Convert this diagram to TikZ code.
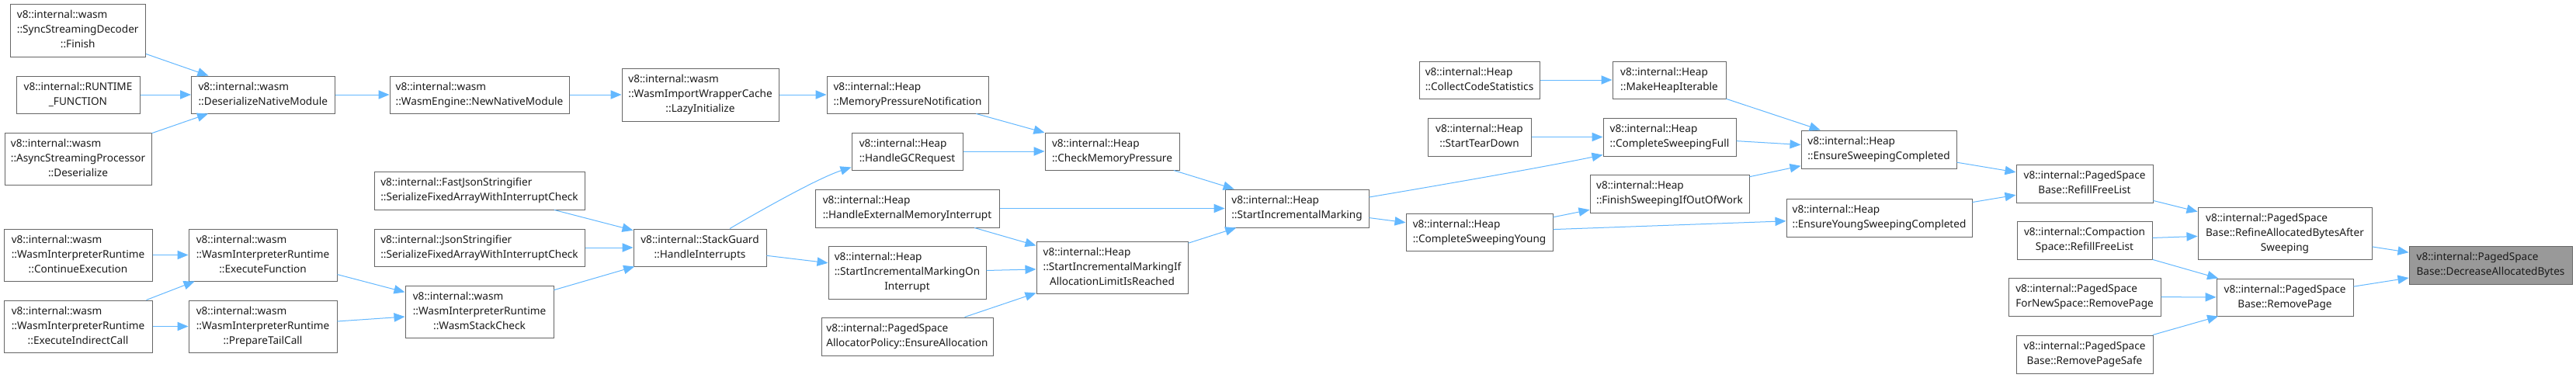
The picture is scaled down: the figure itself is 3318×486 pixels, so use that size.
\documentclass[tikz,border=0pt]{standalone}
\usepackage{fontspec}
\setmainfont{Noto Sans}
\usetikzlibrary{arrows.meta,calc}
\definecolor{edgeblue}{HTML}{63B8FF}
\definecolor{nodeborder}{HTML}{666666}
\definecolor{rootfill}{HTML}{999999}
\definecolor{txt}{HTML}{1A1A1A}
\newcommand{\lc}[1]{\multicolumn{1}{@{}c@{}}{#1}}
% [style] name x1 y1 x2 y2 {left lines} {last line}
\newcommand{\nd}[8][]{\node[nbox,#1,minimum width={(#5-#3)*0.75pt},minimum height={(#6-#4)*0.75pt}] (#2) at ({(#3+#5)/2},{(#4+#6)/2}) {\begin{tabular}{@{}l@{}}#7\\\lc{#8}\end{tabular}};}
\tikzset{
  nbox/.style={rectangle, draw=nodeborder, fill=white, line width=0.75pt, inner sep=0pt, text=txt},
  rootbox/.style={fill=rootfill},
  callarrow/.style={draw=edgeblue, line width=0.75pt, -{Triangle[length=10.5pt,width=8.5pt]}}
}
\begin{document}
\begin{tikzpicture}[x=0.75pt, y=-0.75pt, font=\fontsize{10.2}{14.25}\selectfont]
\fill[white] (0,0) rectangle (3318,486);
\useasboundingbox (0,0) rectangle (3318,486);
% nodes
\nd{sync}{13}{5}{187.5}{73}{v8::internal::wasm\\::SyncStreamingDecoder}{::Finish}
\nd{runtime}{21}{98}{180}{146}{v8::internal::RUNTIME}{\_FUNCTION}
\nd{async}{6}{171}{195}{238}{v8::internal::wasm\\::AsyncStreamingProcessor}{::Deserialize}
\nd{dnm}{246.5}{98}{431}{146}{v8::internal::wasm}{::DeserializeNativeModule}
\nd{ce}{5}{295}{196}{362}{v8::internal::wasm\\::WasmInterpreterRuntime}{::ContinueExecution}
\nd{eic}{5}{387}{196}{454}{v8::internal::wasm\\::WasmInterpreterRuntime}{::ExecuteIndirectCall}
\nd{ef}{243}{295}{434}{362}{v8::internal::wasm\\::WasmInterpreterRuntime}{::ExecuteFunction}
\nd{ptc}{243}{387}{434}{454}{v8::internal::wasm\\::WasmInterpreterRuntime}{::PrepareTailCall}
\nd{nnm}{502}{98}{733}{146}{v8::internal::wasm}{::WasmEngine::NewNativeModule}
\nd{lazy}{801}{88}{1003}{156}{v8::internal::wasm\\::WasmImportWrapperCache}{::LazyInitialize}
\nd{fjs}{482}{221}{753}{270}{v8::internal::FastJsonStringifier}{::SerializeFixedArrayWithInterruptCheck}
\nd{js}{482}{295}{753}{343}{v8::internal::JsonStringifier}{::SerializeFixedArrayWithInterruptCheck}
\nd{wsc}{522}{368}{713}{435}{v8::internal::wasm\\::WasmInterpreterRuntime}{::WasmStackCheck}
\nd{sg}{816}{295}{987}{343}{v8::internal::StackGuard}{::HandleInterrupts}
\nd{mpn}{1065}{98}{1273}{146}{v8::internal::Heap}{::MemoryPressureNotification}
\nd{hgc}{1097}{171}{1240}{219}{v8::internal::Heap}{::HandleGCRequest}
\nd{hemi}{1050}{244}{1287}{293}{v8::internal::Heap}{::HandleExternalMemoryInterrupt}
\nd{simoi}{1067}{317}{1270}{385}{v8::internal::Heap\\::StartIncrementalMarkingOn}{Interrupt}
\nd{ea}{1058}{409}{1279}{458}{v8::internal::PagedSpace}{AllocatorPolicy::EnsureAllocation}
\nd{cmp}{1346}{171}{1519}{219}{v8::internal::Heap}{::CheckMemoryPressure}
\nd{simif}{1335}{311}{1530}{378}{v8::internal::Heap\\::StartIncrementalMarkingIf}{AllocationLimitIsReached}
\nd{sim}{1578}{244}{1763}{293}{v8::internal::Heap}{::StartIncrementalMarking}
\nd{ccs}{1828}{79}{1983}{127}{v8::internal::Heap}{::CollectCodeStatistics}
\nd{std}{1839}{152}{1972}{201}{v8::internal::Heap}{::StartTearDown}
\nd{csy}{1811}{275}{2000}{323}{v8::internal::Heap}{::CompleteSweepingYoung}
\nd{mhi}{2077}{79}{2223}{127}{v8::internal::Heap}{::MakeHeapIterable}
\nd{csf}{2065}{152}{2236}{201}{v8::internal::Heap}{::CompleteSweepingFull}
\nd{fsw}{2048}{225}{2253}{274}{v8::internal::Heap}{::FinishSweepingIfOutOfWork}
\nd{esc}{2320}{168}{2520}{217}{v8::internal::Heap}{::EnsureSweepingCompleted}
\nd{eysc}{2301}{256}{2540}{305}{v8::internal::Heap}{::EnsureYoungSweepingCompleted}
\nd{rfl}{2597}{212}{2773}{261}{v8::internal::PagedSpace}{Base::RefillFreeList}
\nd{crfl}{2598}{285}{2772}{334}{v8::internal::Compaction}{Space::RefillFreeList}
\nd{fns}{2587}{358}{2783}{407}{v8::internal::PagedSpace}{ForNewSpace::RemovePage}
\nd{rps}{2597}{432}{2773}{481}{v8::internal::PagedSpace}{Base::RemovePageSafe}
\nd{refine}{2831}{267}{3055}{334}{v8::internal::PagedSpace\\Base::RefineAllocatedBytesAfter}{Sweeping}
\nd{rp}{2855}{359}{3031}{407}{v8::internal::PagedSpace}{Base::RemovePage}
\nd[rootbox]{dab}{3103}{317}{3313}{366}{v8::internal::PagedSpace}{Base::DecreaseAllocatedBytes}
% edges
\draw[callarrow] (sync) -- (dnm);
\draw[callarrow] (runtime) -- (dnm);
\draw[callarrow] (async) -- (dnm);
\draw[callarrow] (dnm) -- (nnm);
\draw[callarrow] (nnm) -- (lazy);
\draw[callarrow] (lazy) -- (mpn);
\draw[callarrow] (mpn) -- (cmp);
\draw[callarrow] (hgc) -- (cmp);
\draw[callarrow] (cmp) -- (sim);
\draw[callarrow] (hemi) -- (sim);
\draw[callarrow] (hemi) -- (simif);
\draw[callarrow] (simoi) -- (simif);
\draw[callarrow] (ea) -- (simif);
\draw[callarrow] (simif) -- (sim);
\draw[callarrow] (fjs) -- (sg);
\draw[callarrow] (js) -- (sg);
\draw[callarrow] (wsc) -- (sg);
\draw[callarrow] ($(sg.north)+(38.5,0)$) .. controls (985,268) and (1055,229) .. ($(hgc.south west)+(0,-4)$);
\draw[callarrow] (sg) -- (simoi);
\draw[callarrow] (ce) -- (ef);
\draw[callarrow] (eic) -- (ef);
\draw[callarrow] (eic) -- (ptc);
\draw[callarrow] (ef) -- (wsc);
\draw[callarrow] (ptc) -- (wsc);
\draw[callarrow] ($(sim.east)+(0,-14.5)$) .. controls (1870,236) and (1995,214) .. ($(csf.south west)+(0,-2)$);
\draw[callarrow] (sim) -- (csy);
\draw[callarrow] (ccs) -- (mhi);
\draw[callarrow] (std) -- (csf);
\draw[callarrow] (csy) -- (fsw);
\draw[callarrow] (csy) -- (eysc);
\draw[callarrow] (mhi) -- (esc);
\draw[callarrow] (csf) -- (esc);
\draw[callarrow] (fsw) -- (esc);
\draw[callarrow] (esc) -- (rfl);
\draw[callarrow] (eysc) -- (rfl);
\draw[callarrow] (rfl) -- (refine);
\draw[callarrow] (crfl) -- (refine);
\draw[callarrow] (crfl) -- (rp);
\draw[callarrow] (fns) -- (rp);
\draw[callarrow] (rps) -- (rp);
\draw[callarrow] (refine) -- (dab);
\draw[callarrow] (rp) -- (dab);
\end{tikzpicture}
\end{document}
